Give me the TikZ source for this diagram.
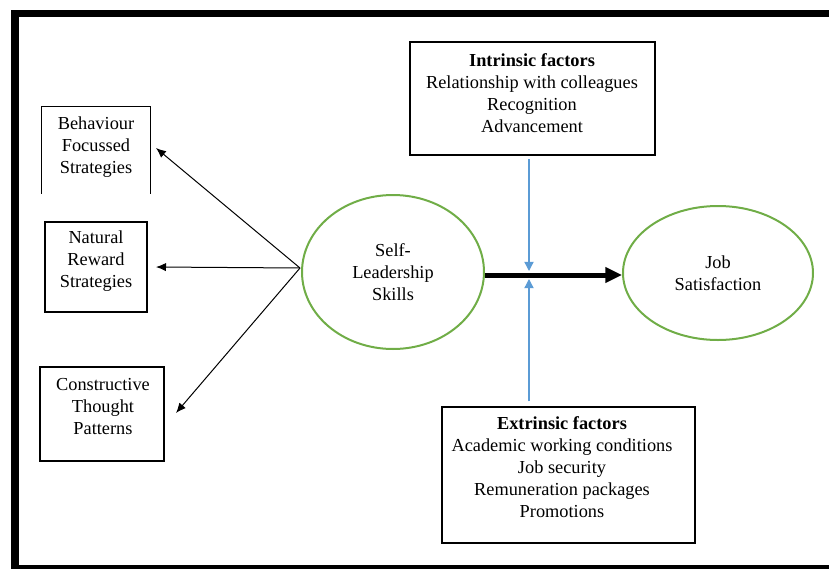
\documentclass[tikz,border=0pt]{standalone}
\usepackage{fontspec}
\setmainfont{Liberation Serif}
\usetikzlibrary{
  arrows.meta,
  calc,
  shapes.geometric
}
\definecolor{ink}{HTML}{000000}
\definecolor{ringgreen}{HTML}{70AD47}
\definecolor{modblue}{HTML}{5B9BD5}
\tikzset{
  font=\fontsize{11}{13.2}\selectfont,
  strategy/.style={
    draw=ink,
    line width=0.8pt,
    inner sep=0pt
  },
  factor/.style={
    draw=ink,
    line width=0.8pt,
    inner sep=0pt
  },
  label text/.style={align=center, inner sep=0pt, text=ink},
  construct/.style={
    ellipse,
    draw=ringgreen,
    line width=1.2pt,
    align=center,
    inner sep=0pt,
    text=ink
  },
  lead/.style={-{Latex[length=6pt,width=5pt]}, draw=ink, line width=0.6pt},
  effect/.style={-{Triangle[length=10pt,width=9pt]}, draw=ink, line width=3pt},
  moderate/.style={-{Triangle[length=5.5pt,width=5.5pt]}, draw=modblue, line width=0.8pt}
}

\begin{document}
\begin{tikzpicture}[x=0.6pt,y=-0.6pt]
  \useasboundingbox (0,0) rectangle (829,569);
  % Page frame
  \draw[draw=ink, line width=4.5pt] (15,13.5) rectangle (845,569);

  % Self-leadership strategies
  \node[strategy, draw=none, minimum width=64.8pt, minimum height=51.6pt] (bfsbox) at (96,150) {};
  \draw[strategy] (bfsbox.south west) |- (bfsbox.north east) -- (bfsbox.south east);
  \node[label text] (bfs) at (96,147.5) {Behaviour\\Focussed\\Strategies};
  \node[strategy, minimum width=61.2pt, minimum height=54pt] (nrsbox) at (96,267) {};
  \node[label text] (nrs) at (96,261.5) {Natural\\Reward\\Strategies};
  \node[strategy, minimum width=74.4pt, minimum height=56.4pt] (ctpbox) at (102,414) {};
  \node[label text] (ctp) at (103,406.5) {Constructive\\Thought\\Patterns};

  % Core constructs
  \node[construct, minimum width=109.2pt, minimum height=92.4pt] (self) at (393,272) {
    Self-\\Leadership\\Skills
  };
  \node[construct, minimum width=114pt, minimum height=80.4pt] (job) at (718,273) {
    Job\\Satisfaction
  };

  % Moderating factors
  \node[factor, minimum width=147pt, minimum height=67.8pt] (intrbox) at (532.5,98.5) {};
  \node[label text] (intr) at (532,93) {
    \textbf{Intrinsic factors}\\Relationship with colleagues\\Recognition\\Advancement
  };
  \node[factor, minimum width=151.8pt, minimum height=81.6pt] (extrbox) at (568.5,475) {};
  \node[label text] (extr) at (562,467.5) {
    \textbf{Extrinsic factors}\\Academic working conditions\\Job security\\Remuneration packages\\Promotions
  };

  % Strategy arrows out of the skills ellipse
  \coordinate (hub) at (300,268);
  \coordinate (bfstip) at (156,148);
  \coordinate (nrstip) at (156,267);
  \coordinate (ctptip) at (176,413);
  \draw[lead] (hub) -- (bfstip);
  \draw[lead] (hub) -- (nrstip);
  \draw[lead] (hub) -- (ctptip);

  % Main effect with the two moderators meeting on it
  \coordinate (gate) at (529,275);
  \draw[effect] (self.east |- gate) -- (job.west |- gate);
  \draw[moderate, shorten <=2pt] (gate |- intrbox.south) -- ($(gate)+(0,-4)$);
  \draw[moderate, shorten <=3pt] (gate |- extrbox.north) -- ($(gate)+(0,4)$);
\end{tikzpicture}
\end{document}
